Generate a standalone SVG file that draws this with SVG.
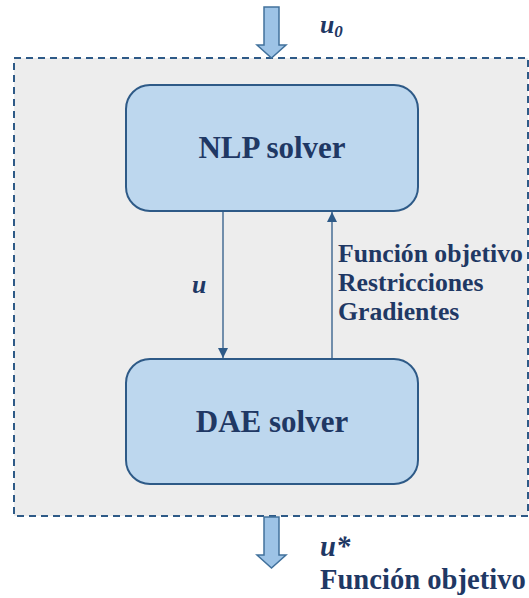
<svg xmlns="http://www.w3.org/2000/svg" width="529" height="598" viewBox="0 0 529 598">
<style>
.t{font-family:"Liberation Serif","Times New Roman",serif;font-weight:bold;fill:#1f3864}
.box{fill:#bdd7ee;stroke:#2e5a87;stroke-width:2}
.blk{fill:#9dc3e6;stroke:#41719c;stroke-width:1.5}
.ln{stroke:#2e5a87;stroke-width:1.3;fill:none}
</style>
<defs>
<marker id="ah" viewBox="0 0 10 10" refX="10" refY="5" markerWidth="10" markerHeight="10" markerUnits="userSpaceOnUse" orient="auto">
<path d="M0,0 L10,5 L0,10 Z" fill="#2e5a87"/>
</marker>
</defs>
<rect width="529" height="598" fill="#ffffff"/>
<g id="frame">
<rect x="14" y="58" width="514" height="458" fill="#ededed" stroke="#2e5a87" stroke-width="2" stroke-dasharray="7,5"/>
</g>
<g id="input">
<path class="blk" d="M264,7 H279 V45 H286 L271.5,58 L257,45 H264 Z"/>
<text class="t" x="320" y="33" font-size="25.7" font-style="italic">u<tspan font-size="17" dy="4">0</tspan></text>
</g>
<g id="nlp">
<rect class="box" x="126" y="85" width="292" height="126" rx="24"/>
<text class="t" x="272" y="158" font-size="31" text-anchor="middle">NLP solver</text>
</g>
<g id="dae">
<rect class="box" x="126" y="359" width="292" height="125" rx="24"/>
<text class="t" x="272" y="432" font-size="31" text-anchor="middle">DAE solver</text>
</g>
<g id="connectors">
<line class="ln" x1="223" y1="211" x2="223" y2="358" marker-end="url(#ah)"/>
<line class="ln" x1="332" y1="359" x2="332" y2="212" marker-end="url(#ah)"/>
</g>
<g id="labels">
<text class="t" x="192" y="293" font-size="25.7" font-style="italic">u</text>
<text class="t" x="338" y="262" font-size="25.7">Función objetivo</text>
<text class="t" x="338" y="291" font-size="25.7">Restricciones</text>
<text class="t" x="338" y="320" font-size="25.7">Gradientes</text>
</g>
<g id="output">
<path class="blk" d="M264,517 H279 V555 H286 L271.5,568 L257,555 H264 Z"/>
<text class="t" x="320" y="556" font-size="28.6" font-style="italic">u*</text>
<text class="t" x="320" y="589" font-size="28.6">Función objetivo</text>
</g>
</svg>
